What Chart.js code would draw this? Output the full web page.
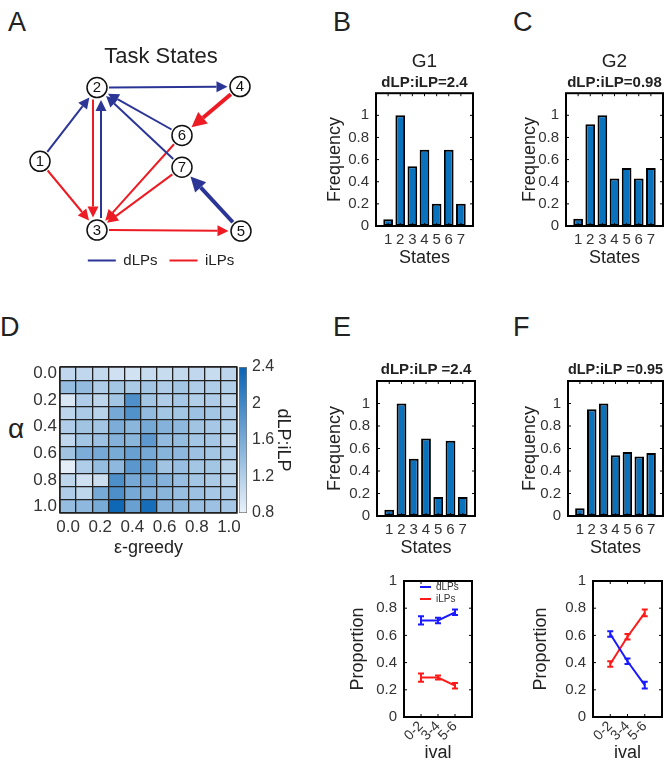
<!DOCTYPE html>
<html>
<head>
<meta charset="utf-8">
<script src="https://cdn.jsdelivr.net/npm/chart.js@4.4.1/dist/chart.umd.min.js"></script>
<style>
  body { margin: 0; background: #fff; }
  #fig { position: relative; width: 672px; height: 768px; overflow: hidden; font-family: 'Liberation Sans', Arial, sans-serif; color: #222; }
  #fig canvas { position: absolute; }
  .lbl { position: absolute; font-size: 27px; line-height: 1; }
</style>
</head>
<body>
<div id="fig">
  <div class="lbl" style="left:8px;top:9px">A</div>
  <div class="lbl" style="left:333px;top:9px">B</div>
  <div class="lbl" style="left:513px;top:9px">C</div>
  <div class="lbl" style="left:0px;top:314px">D</div>
  <div class="lbl" style="left:333px;top:314px">E</div>
  <div class="lbl" style="left:513px;top:314px">F</div>
  <div class="lbl" style="left:8px;top:415px;font-size:28px">α</div>

  <canvas id="graphA" width="322" height="243" style="left:0;top:35px"></canvas>
  <canvas id="barB" width="175" height="230" style="left:310px;top:45px"></canvas>
  <canvas id="barC" width="175" height="230" style="left:500px;top:45px"></canvas>
  <canvas id="heatD" width="250" height="210" style="left:0;top:355px"></canvas>
  <canvas id="cbarD" width="70" height="170" style="left:230px;top:355px"></canvas>
  <canvas id="barE" width="175" height="235" style="left:311px;top:330px"></canvas>
  <canvas id="barF" width="175" height="235" style="left:502px;top:330px"></canvas>
  <canvas id="lineE" width="145" height="198" style="left:340px;top:570px"></canvas>
  <canvas id="lineF" width="145" height="198" style="left:529px;top:570px"></canvas>
</div>

<script>
// ---- data ----
// panel A: task state graph (layout of the drawing + transitions)
const nodeIds = [1, 2, 3, 4, 5, 6, 7];
const nodeX = [40, 97, 97, 240, 241, 182, 182];
const nodeY = [161, 87, 230, 86, 231, 135, 167];
const dEdges = [[1, 2], [2, 4], [6, 2], [7, 2], [3, 2], [5, 7]];
const dWeight = [1, 1, 1, 1, 1, 2];
const iEdges = [[1, 3], [2, 3], [4, 6], [6, 3], [7, 3], [3, 5]];
const iWeight = [1, 1, 2, 1, 1, 1];

// panels B, C, E, F: state frequencies
const states = [1, 2, 3, 4, 5, 6, 7];
const freqTicks = [0, 0.2, 0.4, 0.6, 0.8, 1];
const freqG1 = [0.06, 1.0, 0.54, 0.69, 0.2, 0.69, 0.2];
const freqG2 = [0.066, 0.92, 1.0, 0.43, 0.525, 0.43, 0.525];
const freqE = [0.056, 1.0, 0.51, 0.69, 0.17, 0.67, 0.17];
const freqF = [0.07, 0.95, 1.0, 0.54, 0.57, 0.53, 0.56];

// panel D: dLP:iLP ratio, rows = alpha 0.0..1.0, cols = epsilon 0.0..1.0
const epsLabels = ['0.0', '0.1', '0.2', '0.3', '0.4', '0.5', '0.6', '0.7', '0.8', '0.9', '1.0'];
const alphaLabels = ['0.0', '0.1', '0.2', '0.3', '0.4', '0.5', '0.6', '0.7', '0.8', '0.9', '1.0'];
const ratioGrid = [
  [1.10, 1.10, 1.08, 1.00, 0.98, 1.05, 1.05, 1.08, 1.10, 1.05, 1.12],
  [1.40, 1.42, 1.22, 1.30, 1.25, 1.30, 1.22, 1.30, 1.22, 1.22, 1.20],
  [0.92, 1.22, 1.12, 1.30, 1.90, 1.30, 1.22, 1.28, 1.20, 1.22, 1.12],
  [1.12, 1.25, 1.15, 1.62, 1.88, 1.42, 1.30, 1.30, 1.35, 1.30, 1.20],
  [1.22, 1.32, 1.30, 1.58, 1.48, 1.62, 1.52, 1.45, 1.32, 1.28, 1.20],
  [1.10, 1.30, 1.35, 1.52, 1.48, 1.80, 1.42, 1.40, 1.30, 1.28, 1.12],
  [1.32, 1.58, 1.62, 1.60, 1.72, 1.62, 1.50, 1.45, 1.35, 1.30, 1.22],
  [0.85, 1.22, 1.40, 1.45, 1.82, 1.72, 1.32, 1.38, 1.30, 1.30, 1.15],
  [1.12, 1.00, 1.02, 1.92, 1.62, 1.62, 1.52, 1.38, 1.30, 1.25, 1.15],
  [1.22, 1.12, 1.62, 1.92, 1.62, 1.55, 1.48, 1.38, 1.35, 1.28, 1.22],
  [1.40, 1.45, 1.60, 2.35, 1.72, 2.30, 1.52, 1.45, 1.38, 1.35, 1.28]
];
const cbarTicks = [0.8, 1.2, 1.6, 2, 2.4];

// panels E, F (bottom): proportion of presses by interval
const ivals = ['0-2', '3-4', '5-6'];
const propTicks = [0, 0.2, 0.4, 0.6, 0.8, 1];
const eDlp = [0.71, 0.71, 0.77];
const eDlpErr = [0.03, 0.02, 0.02];
const eIlp = [0.29, 0.29, 0.23];
const eIlpErr = [0.03, 0.015, 0.02];
const fDlp = [0.61, 0.41, 0.235];
const fDlpErr = [0.02, 0.02, 0.025];
const fIlp = [0.39, 0.59, 0.765];
const fIlpErr = [0.02, 0.02, 0.025];

// ---- style ----
const FONT = "'Liberation Sans', Arial, sans-serif";
Chart.defaults.font.family = FONT;
Chart.defaults.color = '#333';
const barBlue = '#0a72bd';
const navy = '#2b3595';
const red = '#ed1c24';
const lineBlue = '#1a1aff';
const lineRed = '#ff1a1a';

// colormap for the ratio heatmap
function ratioColor(v) {
  const t = Math.max(0, Math.min(1, (v - 0.8) / 1.6));
  const lo = [234, 242, 250], hi = [8, 100, 180];
  const c = lo.map((l, k) => Math.round(l + (hi[k] - l) * t));
  return `rgb(${c[0]},${c[1]},${c[2]})`;
}

// box around plot area, with small inward tick marks
Chart.register({
  id: 'frame',
  afterDraw(chart, args, opts) {
    if (!opts || !opts.width) return;
    const { ctx, chartArea: a } = chart;
    ctx.save();
    if (opts.tick) {
      ctx.lineWidth = 1;
      ctx.strokeStyle = opts.color || '#000';
      ctx.beginPath();
      const xs = chart.scales.x, ys = chart.scales.y;
      xs.ticks.forEach(t => {
        const px = xs.getPixelForValue(t.value);
        ctx.moveTo(px, a.bottom); ctx.lineTo(px, a.bottom - opts.tick);
        ctx.moveTo(px, a.top); ctx.lineTo(px, a.top + opts.tick);
      });
      ys.ticks.forEach(t => {
        const py = ys.getPixelForValue(t.value);
        ctx.moveTo(a.left, py); ctx.lineTo(a.left + opts.tick, py);
        ctx.moveTo(a.right, py); ctx.lineTo(a.right - opts.tick, py);
      });
      ctx.stroke();
    }
    ctx.lineWidth = opts.width;
    ctx.strokeStyle = opts.color || '#000';
    ctx.strokeRect(a.left, a.top, a.right - a.left, a.bottom - a.top);
    ctx.restore();
  }
});

// error bars for line datasets that carry an `errors` array
Chart.register({
  id: 'errorBars',
  afterDatasetsDraw(chart) {
    const { ctx } = chart;
    const ys = chart.scales.y;
    chart.data.datasets.forEach((ds, i) => {
      if (!ds.errors) return;
      const meta = chart.getDatasetMeta(i);
      ctx.save();
      ctx.strokeStyle = ds.borderColor;
      ctx.lineWidth = 2;
      meta.data.forEach((pt, j) => {
        const v = ds.data[j].y;
        const top = ys.getPixelForValue(v + ds.errors[j]);
        const bot = ys.getPixelForValue(v - ds.errors[j]);
        ctx.beginPath();
        ctx.moveTo(pt.x, top); ctx.lineTo(pt.x, bot);
        ctx.moveTo(pt.x - 3, top); ctx.lineTo(pt.x + 3, top);
        ctx.moveTo(pt.x - 3, bot); ctx.lineTo(pt.x + 3, bot);
        ctx.stroke();
      });
      ctx.restore();
    });
  }
});

// arrow heads on graph edges, node numbers
Chart.register({
  id: 'graphBits',
  afterDatasetDraw(chart, args) {
    const ds = chart.data.datasets[args.index];
    if (!ds.arrow) return;
    const [a, b] = args.meta.data;
    const ang = Math.atan2(b.y - a.y, b.x - a.x);
    const c = Math.cos(ang), s = Math.sin(ang);
    const { len, half } = ds.arrow;
    const ctx = chart.ctx;
    ctx.save();
    ctx.fillStyle = ds.borderColor;
    ctx.beginPath();
    ctx.moveTo(b.x + len * c, b.y + len * s);
    ctx.lineTo(b.x - half * s, b.y + half * c);
    ctx.lineTo(b.x + half * s, b.y - half * c);
    ctx.closePath();
    ctx.fill();
    ctx.restore();
  },
  afterDatasetsDraw(chart) {
    chart.data.datasets.forEach((ds, i) => {
      if (!ds.nodeLabels) return;
      const ctx = chart.ctx;
      ctx.save();
      ctx.font = '15px ' + FONT;
      ctx.fillStyle = '#111';
      ctx.textAlign = 'center';
      ctx.textBaseline = 'middle';
      chart.getDatasetMeta(i).data.forEach((pt, j) => ctx.fillText(String(ds.nodeLabels[j]), pt.x, pt.y + 0.5));
      ctx.restore();
    });
  }
});

// place the in-plot legend relative to the plot area
Chart.register({
  id: 'legendNudge',
  afterLayout(chart, args, opts) {
    if (opts && opts.on && chart.legend) {
      const w = chart.legend.right - chart.legend.left;
      chart.legend.left = chart.chartArea.left + opts.dx;
      chart.legend.right = chart.legend.left + w;
      chart.legend.top = chart.chartArea.top + opts.dy;
    }
  }
});

const base = { responsive: false, animation: false, events: [], devicePixelRatio: 1 };
const noGrid = { display: false, drawTicks: false };
const noBorder = { display: false };
// fixed axis sizes so every plot box lands where the figure has it
const fixW = w => s => { s.width = w; s.paddingTop = 0; s.paddingBottom = 0; };
const fixH = h => s => { s.height = h; s.paddingLeft = 0; s.paddingRight = 0; };

// ---- panel A ----
const allPairs = dEdges.concat(iEdges);
function edgeSet(pair, weight, color, label) {
  const ia = nodeIds.indexOf(pair[0]), ib = nodeIds.indexOf(pair[1]);
  const dx = nodeX[ib] - nodeX[ia], dy = nodeY[ib] - nodeY[ia];
  const L = Math.hypot(dx, dy), ux = dx / L, uy = dy / L;
  const twoWay = allPairs.some(p => p[0] === pair[1] && p[1] === pair[0]);
  const off = twoWay ? 4 : 0;
  const px = -uy * off, py = ux * off;
  const head = weight > 1 ? 15 : 11;
  const sx = nodeX[ia] + ux * 12 + px, sy = nodeY[ia] + uy * 12 + py;
  const tx = nodeX[ib] - ux * 12.5 + px, ty = nodeY[ib] - uy * 12.5 + py;
  return {
    type: 'line', label: label || '', inLegend: !!label,
    data: [{ x: sx, y: sy }, { x: tx - ux * head, y: ty - uy * head }],
    borderColor: color, backgroundColor: color, borderWidth: weight > 1 ? 4 : 2,
    borderCapStyle: 'butt', pointRadius: 0, order: 1, clip: false,
    arrow: { len: head, half: weight > 1 ? 7.5 : 5.5 }
  };
}
const graphSets = [{
  type: 'scatter', label: 'states', inLegend: false, nodeLabels: nodeIds,
  data: nodeIds.map((n, i) => ({ x: nodeX[i], y: nodeY[i] })),
  pointRadius: 10, pointBackgroundColor: '#fff', pointBorderColor: '#111', pointBorderWidth: 1.5,
  order: 0, clip: false
}];
dEdges.forEach((p, i) => graphSets.push(edgeSet(p, dWeight[i], navy, i === 0 ? 'dLPs' : '')));
iEdges.forEach((p, i) => graphSets.push(edgeSet(p, iWeight[i], red, i === 0 ? 'iLPs' : '')));

new Chart(document.getElementById('graphA'), {
  type: 'scatter',
  data: { datasets: graphSets },
  options: {
    ...base,
    layout: { autoPadding: false, padding: 0 },
    plugins: {
      tooltip: { enabled: false },
      title: { display: true, text: 'Task States', color: '#222', font: { size: 22, weight: 'normal' }, padding: { top: 8.8, bottom: 5 } },
      legend: {
        position: 'bottom',
        labels: {
          usePointStyle: true, pointStyle: 'line', pointStyleWidth: 28, padding: 12,
          color: '#222', font: { size: 15 },
          filter: (item, data) => data.datasets[item.datasetIndex].inLegend
        }
      }
    },
    scales: {
      x: { display: false, min: 0, max: 322 },
      y: { display: false, min: 74.6, max: 241, reverse: true }
    }
  }
});

// ---- bar charts B, C, E, F ----
function freqChart(id, values, o) {
  return new Chart(document.getElementById(id), {
    type: 'bar',
    data: {
      datasets: [{
        data: states.map((s, i) => ({ x: s, y: values[i] })),
        backgroundColor: barBlue, borderColor: '#000', borderWidth: 2, borderSkipped: false,
        barPercentage: 0.8, categoryPercentage: 1
      }]
    },
    options: {
      ...base,
      layout: { autoPadding: false, padding: { right: o.right } },
      plugins: {
        legend: { display: false },
        tooltip: { enabled: false },
        frame: { width: 2, color: '#000', tick: 3 },
        title: o.title
          ? { display: true, fullSize: false, text: o.title, color: '#222', font: { size: 19, weight: 'normal' }, padding: { top: 5.6, bottom: 0 } }
          : { display: false },
        subtitle: { display: true, fullSize: false, text: o.sub, color: '#222', font: { size: 15, weight: 'bold' }, padding: o.subPad }
      },
      scales: {
        x: {
          type: 'linear', min: 0, max: 8, offset: false,
          afterBuildTicks: a => { a.ticks = states.map(v => ({ value: v })); },
          ticks: { font: { size: 15 }, padding: 5, callback: v => String(v) },
          grid: noGrid, border: noBorder,
          title: { display: true, text: 'States', color: '#222', font: { size: 18 }, padding: { top: 0, bottom: 6.2 } },
          afterFit: fixH(o.xh)
        },
        y: {
          min: 0, max: 1.2,
          afterBuildTicks: a => { a.ticks = freqTicks.map(v => ({ value: v })); },
          ticks: { font: { size: 15 }, padding: 7, callback: v => String(v) },
          grid: noGrid, border: noBorder,
          title: { display: true, text: 'Frequency', color: '#222', font: { size: 18 }, padding: { top: o.ytp, bottom: 0 } },
          afterFit: fixW(66)
        }
      }
    }
  });
}
freqChart('barB', freqG1, { title: 'G1', sub: 'dLP:iLP=2.4', subPad: { top: 0.5, bottom: 1.3 }, right: 12, xh: 49, ytp: 14 });
freqChart('barC', freqG2, { title: 'G2', sub: 'dLP:iLP=0.98', subPad: { top: 0.5, bottom: 1.3 }, right: 12, xh: 49, ytp: 19 });
freqChart('barE', freqE, { sub: 'dLP:iLP =2.4', subPad: { top: 31, bottom: 2 }, right: 11, xh: 49, ytp: 13 });
freqChart('barF', freqF, { sub: 'dLP:iLP =0.95', subPad: { top: 31, bottom: 2 }, right: 14, xh: 49, ytp: 17 });

// ---- panel D heatmap (stacked unit cells coloured by ratio) ----
const heatSets = alphaLabels.map((a, r) => ({
  label: 'alpha ' + a,
  data: epsLabels.map(() => 1),
  backgroundColor: ratioGrid[r].map(ratioColor),
  borderWidth: 0,
  barPercentage: 1, categoryPercentage: 1
}));
const alphaTickPos = alphaLabels.map((a, r) => r).filter(r => r % 2 === 0);

new Chart(document.getElementById('heatD'), {
  type: 'bar',
  data: { labels: epsLabels, datasets: heatSets },
  options: {
    ...base,
    layout: { autoPadding: false, padding: { top: 12, right: 13 } },
    plugins: { legend: { display: false }, tooltip: { enabled: false }, frame: { width: 1.4, color: '#222' } },
    scales: {
      x: {
        stacked: true,
        ticks: { font: { size: 17 }, padding: 4, autoSkip: false, maxRotation: 0, callback: (v, i) => (i % 2 === 0 ? epsLabels[i] : '') },
        grid: { color: '#222', lineWidth: 1.3, drawTicks: false, offset: true, z: 1 },
        border: noBorder,
        title: { display: true, text: 'ε-greedy', color: '#222', font: { size: 18 }, padding: { top: 0, bottom: 6 } },
        afterFit: fixH(52)
      },
      y: {
        stacked: true, min: 0, max: alphaLabels.length, reverse: true,
        ticks: { display: false, stepSize: 1 },
        grid: { color: '#222', lineWidth: 1.3, drawTicks: false, z: 1 },
        border: noBorder
      },
      yl: {
        type: 'linear', position: 'left', min: 0, max: alphaLabels.length, reverse: true,
        afterBuildTicks: a => { a.ticks = alphaTickPos.map(r => ({ value: r + 0.5 })); },
        ticks: { font: { size: 17 }, padding: 3, callback: v => alphaLabels[Math.round(v - 0.5)] },
        grid: noGrid, border: noBorder,
        afterFit: fixW(60)
      }
    }
  }
});

// colour bar
new Chart(document.getElementById('cbarD'), {
  type: 'bar',
  data: {
    labels: ['dLP:iLP'],
    datasets: [{
      data: [[cbarTicks[0], cbarTicks[cbarTicks.length - 1]]],
      backgroundColor: c => {
        const ch = c.chart;
        if (!ch.chartArea) return ratioColor(1.6);
        const ys = ch.scales.y;
        const g = ch.ctx.createLinearGradient(0, ys.getPixelForValue(0.8), 0, ys.getPixelForValue(2.4));
        for (let k = 0; k <= 8; k++) g.addColorStop(k / 8, ratioColor(0.8 + 1.6 * k / 8));
        return g;
      },
      borderColor: '#777', borderWidth: 1, borderSkipped: false,
      barPercentage: 1, categoryPercentage: 1
    }]
  },
  options: {
    ...base,
    layout: { autoPadding: false, padding: { left: 9, top: 12, bottom: 12 } },
    plugins: { legend: { display: false }, tooltip: { enabled: false } },
    scales: {
      x: { display: false },
      y: {
        position: 'right', min: 0.8, max: 2.4,
        afterBuildTicks: a => { a.ticks = cbarTicks.map(v => ({ value: v })); },
        ticks: { font: { size: 16 }, padding: 5, callback: v => String(v) },
        grid: noGrid, border: noBorder,
        title: { display: true, text: 'dLP:iLP', color: '#222', font: { size: 18 }, padding: { top: 6, bottom: 0 } },
        afterFit: fixW(53)
      }
    }
  }
});

// ---- proportion line charts ----
function propChart(id, dlp, dlpErr, ilp, ilpErr, o) {
  return new Chart(document.getElementById(id), {
    type: 'line',
    data: {
      datasets: [
        { label: 'dLPs', data: ivals.map((v, i) => ({ x: i + 1, y: dlp[i] })), errors: dlpErr, borderColor: lineBlue, backgroundColor: lineBlue, borderWidth: 2, pointRadius: 0 },
        { label: 'iLPs', data: ivals.map((v, i) => ({ x: i + 1, y: ilp[i] })), errors: ilpErr, borderColor: lineRed, backgroundColor: lineRed, borderWidth: 2, pointRadius: 0 }
      ]
    },
    options: {
      ...base,
      layout: { autoPadding: false, padding: { top: 11, right: o.right } },
      plugins: {
        tooltip: { enabled: false },
        frame: { width: 2, color: '#000', tick: 3 },
        legendNudge: { on: o.legend, dx: 14, dy: -1 },
        legend: o.legend
          ? { display: true, position: 'chartArea', align: 'start',
              labels: { usePointStyle: true, pointStyle: 'line', pointStyleWidth: 11, padding: 2, color: '#333', font: { size: 10 } } }
          : { display: false }
      },
      scales: {
        x: {
          type: 'linear', min: 0, max: 4,
          afterBuildTicks: a => { a.ticks = ivals.map((v, i) => ({ value: i + 1 })); },
          ticks: { font: { size: 14 }, padding: 1, minRotation: 45, maxRotation: 45, callback: v => ivals[v - 1] },
          grid: noGrid, border: noBorder,
          title: { display: true, text: 'ival', color: '#222', font: { size: 18 }, padding: { top: 0, bottom: 4 } },
          afterFit: fixH(51)
        },
        y: {
          min: 0, max: 1,
          afterBuildTicks: a => { a.ticks = propTicks.map(v => ({ value: v })); },
          ticks: { font: { size: 15 }, padding: 7, callback: v => String(v) },
          grid: noGrid, border: noBorder,
          title: { display: true, text: 'Proportion', color: '#222', font: { size: 18 }, padding: { top: o.ytp, bottom: 0 } },
          afterFit: fixW(64)
        }
      }
    }
  });
}
propChart('lineE', eDlp, eDlpErr, eIlp, eIlpErr, { legend: true, right: 13, ytp: 7.2 });
propChart('lineF', fDlp, fDlpErr, fIlp, fIlpErr, { legend: false, right: 12, ytp: 1 });
</script>
</body>
</html>
